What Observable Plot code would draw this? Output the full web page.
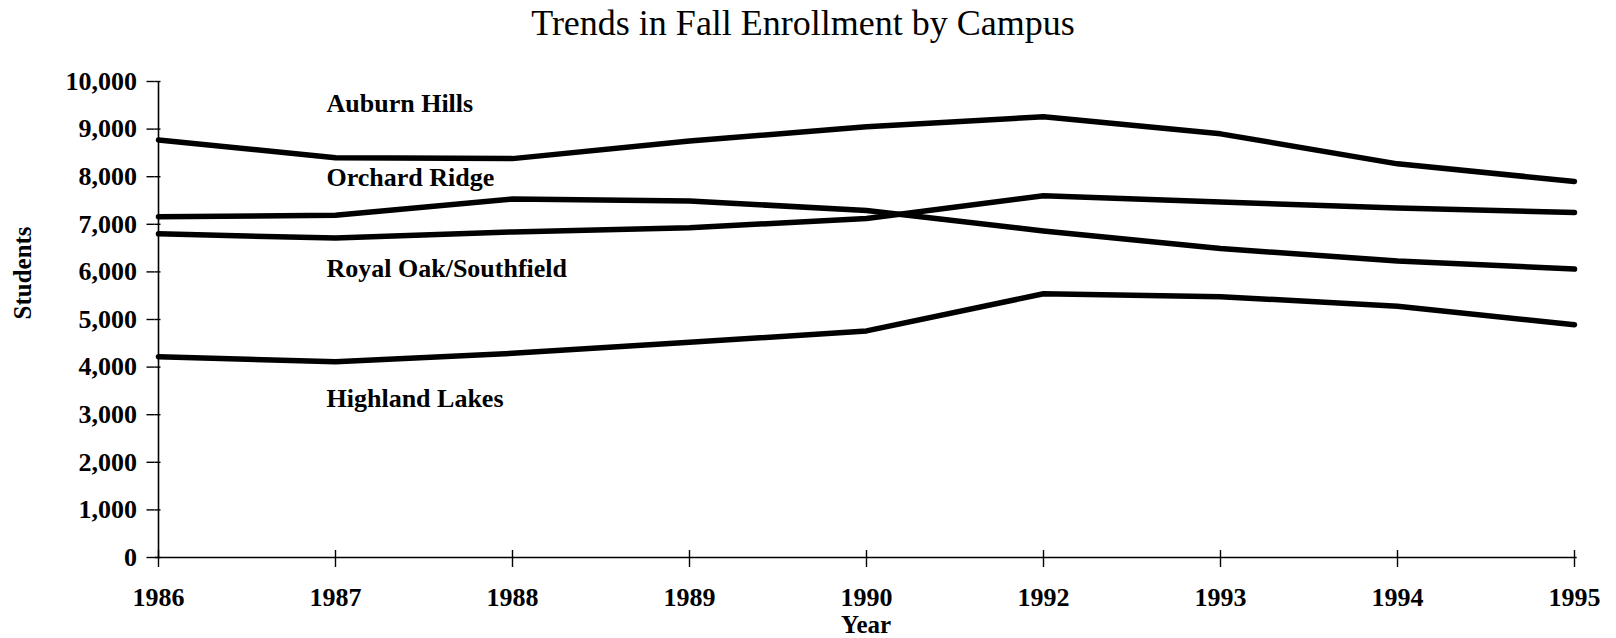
<!DOCTYPE html>
<html>
<head>
<meta charset="utf-8">
<script src="https://cdn.jsdelivr.net/npm/d3@7"></script>
<script src="https://cdn.jsdelivr.net/npm/@observablehq/plot@0.6"></script>
<style>
  html, body { margin: 0; padding: 0; background: #fff; }
  #title { height: 46px; line-height: 46px; text-align: center; font-family: "Liberation Serif", "Times New Roman", serif; font-size: 36px; color: #000; width: 1616px; padding-right: 10px; box-sizing: border-box; }
  #chart svg { display: block; }
</style>
</head>
<body>
<div id="title">Trends in Fall Enrollment by Campus</div>
<div id="chart"></div>
<script>
// ---- data ----
const years = ["1986", "1987", "1988", "1989", "1990", "1992", "1993", "1994", "1995"];
const auburnHills   = [8770, 8400, 8380, 8750, 9050, 9260, 8900, 8270, 7900];
const orchardRidge  = [7160, 7190, 7530, 7490, 7290, 6860, 6490, 6230, 6060];
const royalOak      = [6800, 6710, 6840, 6930, 7120, 7600, 7470, 7340, 7250];
const highlandLakes = [4220, 4110, 4290, 4520, 4760, 5540, 5480, 5280, 4890];
const campusNames = ["Auburn Hills", "Orchard Ridge", "Royal Oak/Southfield", "Highland Lakes"];
const labelLevels = [9540, 7990, 6060, 3340];
const labelYear = "1987";
const yTicks = [0, 1000, 2000, 3000, 4000, 5000, 6000, 7000, 8000, 9000, 10000];

const seriesValues = [auburnHills, orchardRidge, royalOak, highlandLakes];
const rows = [];
campusNames.forEach((name, s) => {
  years.forEach((yr, i) => rows.push({campus: name, year: yr, value: seriesValues[s][i]}));
});
const labels = campusNames.map((name, i) => ({name, year: labelYear, level: labelLevels[i]}));

const W = 1616, H = 592;
const mL = 154.5, mR = 39.3, mT = 35, mB = 81;
const innerW = W - mL - mR, innerH = H - mT - mB;
const font = "Liberation Serif, Times New Roman, serif";

const chart = Plot.plot({
  width: W,
  height: H,
  marginLeft: mL,
  marginRight: mR,
  marginTop: mT,
  marginBottom: mB,
  style: {background: "white", color: "black", fontFamily: font, overflow: "visible"},
  x: {type: "point", domain: years, padding: 0},
  y: {domain: [0, 10000]},
  marks: [
    Plot.ruleY([0], {stroke: "black", strokeWidth: 1.6}),
    Plot.ruleX([years[0]], {stroke: "black", strokeWidth: 1.6}),
    Plot.axisY(yTicks, {
      tickSize: 8, tickPadding: 10, strokeWidth: 1.4,
      tickFormat: d3.format(","), fontSize: 26, fontWeight: "bold", fontFamily: font, label: null
    }),
    Plot.tickY(yTicks, {y: d => d, insetRight: innerW - 6, stroke: "black", strokeWidth: 1.4}),
    Plot.axisX(years, {
      tickSize: 10, tickPadding: 20, strokeWidth: 1.4,
      fontSize: 26, fontWeight: "bold", fontFamily: font, label: null
    }),
    Plot.tickX(years, {x: d => d, insetTop: innerH - 7, stroke: "black", strokeWidth: 1.4}),
    Plot.line(rows, {x: "year", y: "value", z: "campus", stroke: "black", strokeWidth: 5.5, strokeLinejoin: "round", strokeLinecap: "round"}),
    Plot.text(labels, {
      x: "year", y: "level", text: "name", textAnchor: "start", dx: -9,
      fontSize: 26, fontWeight: "bold", fontFamily: font, fill: "black"
    }),
    Plot.text(["Students"], {
      frameAnchor: "left", text: d => d, rotate: -90, dx: -132,
      fontSize: 25, fontWeight: "bold", fontFamily: font, fill: "black"
    }),
    Plot.text(["Year"], {
      frameAnchor: "bottom", text: d => d, dy: 75,
      fontSize: 25, fontWeight: "bold", fontFamily: font, fill: "black"
    })
  ]
});
document.getElementById("chart").appendChild(chart);
</script>
</body>
</html>
